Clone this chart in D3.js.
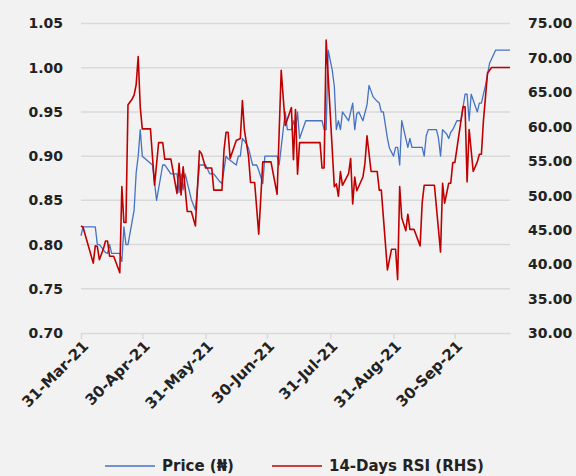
<!DOCTYPE html>
<html>
<head>
<meta charset="utf-8">
<script src="https://cdn.jsdelivr.net/npm/d3@7"></script>
<style>
html,body{margin:0;padding:0;background:#f2f2f2;}
svg{display:block;}
text{font-family:"DejaVu Sans",sans-serif;font-weight:bold;fill:#222;}
</style>
</head>
<body>
<svg id="chart" width="576" height="476"></svg>
<script>
const priceDates = ["2021-03-31","2021-04-01","2021-04-07","2021-04-08","2021-04-09","2021-04-12","2021-04-13","2021-04-14","2021-04-15","2021-04-19","2021-04-20","2021-04-21","2021-04-22","2021-04-23","2021-04-26","2021-04-27","2021-04-28","2021-04-29","2021-04-30",
"2021-05-03","2021-05-05","2021-05-07","2021-05-10","2021-05-11","2021-05-14","2021-05-17","2021-05-18","2021-05-19","2021-05-20","2021-05-21","2021-05-24","2021-05-26","2021-05-28","2021-05-31",
"2021-06-02","2021-06-04","2021-06-07","2021-06-08","2021-06-10","2021-06-11","2021-06-15","2021-06-16","2021-06-17","2021-06-18","2021-06-20","2021-06-21","2021-06-23","2021-06-25","2021-06-26","2021-06-28","2021-06-29",
"2021-07-05","2021-07-06","2021-07-09","2021-07-10","2021-07-12","2021-07-13","2021-07-14","2021-07-15","2021-07-16","2021-07-19","2021-07-27","2021-07-28","2021-07-29","2021-07-30",
"2021-08-01","2021-08-02","2021-08-03","2021-08-04","2021-08-05","2021-08-06","2021-08-09","2021-08-11","2021-08-12","2021-08-13","2021-08-14","2021-08-16","2021-08-18","2021-08-19","2021-08-21","2021-08-23","2021-08-24","2021-08-25","2021-08-26","2021-08-28","2021-08-29","2021-08-31",
"2021-09-01","2021-09-02","2021-09-03","2021-09-04","2021-09-06","2021-09-07","2021-09-08","2021-09-09","2021-09-14","2021-09-15","2021-09-16","2021-09-17","2021-09-21","2021-09-22","2021-09-23","2021-09-24","2021-09-26","2021-09-27","2021-09-28","2021-09-29",
"2021-10-01","2021-10-03","2021-10-05","2021-10-06","2021-10-07","2021-10-08","2021-10-11","2021-10-12","2021-10-13","2021-10-15","2021-10-17","2021-10-20","2021-10-27"];
const priceValues = [0.81,0.82,0.82,0.80,0.80,0.791,0.79,0.80,0.79,0.79,0.781,0.82,0.80,0.80,0.839,0.881,0.90,0.93,0.90,
0.894,0.89,0.85,0.89,0.89,0.88,0.88,0.859,0.88,0.862,0.88,0.851,0.839,0.89,0.89,
0.88,0.88,0.871,0.869,0.90,0.897,0.89,0.90,0.90,0.92,0.914,0.909,0.89,0.89,0.884,0.869,0.90,
0.90,0.89,0.95,0.93,0.93,0.94,0.93,0.95,0.92,0.94,0.94,0.93,0.93,1.02,
0.997,0.979,0.93,0.94,0.93,0.95,0.94,0.96,0.93,0.948,0.95,0.94,0.958,0.98,0.967,0.962,0.96,0.95,0.95,0.92,0.909,0.90,
0.91,0.91,0.89,0.94,0.92,0.91,0.92,0.91,0.91,0.90,0.923,0.93,0.93,0.92,0.90,0.93,0.925,0.92,0.927,0.93,
0.94,0.94,0.97,0.97,0.94,0.97,0.95,0.96,0.96,0.98,1.005,1.02,1.02];

const rsiDates = ["2021-03-31","2021-04-01","2021-04-06","2021-04-07","2021-04-08","2021-04-09","2021-04-11","2021-04-12","2021-04-13","2021-04-14","2021-04-16","2021-04-19","2021-04-20","2021-04-21","2021-04-22","2021-04-23","2021-04-25","2021-04-26","2021-04-27","2021-04-28","2021-04-29","2021-04-30",
"2021-05-04","2021-05-06","2021-05-08","2021-05-10","2021-05-11","2021-05-14","2021-05-17","2021-05-18","2021-05-19","2021-05-20","2021-05-22","2021-05-24","2021-05-26","2021-05-28","2021-05-29","2021-05-31",
"2021-06-03","2021-06-04","2021-06-08","2021-06-09","2021-06-10","2021-06-11","2021-06-12","2021-06-15","2021-06-17","2021-06-18","2021-06-19","2021-06-21","2021-06-22","2021-06-24","2021-06-26","2021-06-28",
"2021-07-02","2021-07-05","2021-07-07","2021-07-09","2021-07-12","2021-07-13","2021-07-14","2021-07-15","2021-07-16","2021-07-26","2021-07-27","2021-07-28","2021-07-29",
"2021-08-02","2021-08-03","2021-08-04","2021-08-05","2021-08-06","2021-08-09","2021-08-10","2021-08-11","2021-08-12","2021-08-13","2021-08-16","2021-08-17","2021-08-18","2021-08-20","2021-08-23","2021-08-24","2021-08-25","2021-08-28","2021-08-30",
"2021-09-01","2021-09-02","2021-09-03","2021-09-04","2021-09-06","2021-09-07","2021-09-08","2021-09-10","2021-09-13","2021-09-14","2021-09-15","2021-09-20","2021-09-23","2021-09-24","2021-09-25","2021-09-27","2021-09-28","2021-09-29","2021-09-30",
"2021-10-04","2021-10-05","2021-10-06","2021-10-07","2021-10-09","2021-10-11","2021-10-12","2021-10-13","2021-10-14","2021-10-16","2021-10-18","2021-10-27"];
const rsiValues = [45.6,45.4,40.2,42.7,42.6,40.7,42.3,43.4,43.4,41.2,41.2,38.8,51.3,46.1,46.1,63.2,64.0,64.6,66.1,70.2,62.9,59.7,
59.7,51.5,57.7,57.7,55.3,55.3,50.3,54.7,50.1,54.2,47.7,47.7,45.6,56.5,56.1,54.0,
54.0,50.8,50.8,56.6,59.2,59.2,55.4,58.0,58.3,63.8,59.5,55.7,51.9,51.9,44.4,54.9,
54.9,50.2,68.2,60.2,62.8,55.2,62.5,53.1,57.7,57.7,54.0,54.0,72.6,
51.3,51.7,49.9,53.5,51.5,53.2,55.4,48.8,52.7,50.7,52.7,54.7,58.7,53.5,53.5,50.8,50.8,39.2,42.2,
42.2,37.8,51.3,46.8,44.9,47.3,45.1,45.1,42.7,48.9,51.5,51.5,41.8,51.8,48.9,51.8,51.8,54.8,54.8,
62.9,62.9,52.0,59.6,53.5,54.9,56.0,56.0,60.9,67.8,68.6,68.6];

const xTickDates = ["2021-03-31","2021-04-30","2021-05-31","2021-06-30","2021-07-31","2021-08-31","2021-09-30"];
const priceTicks = [0.70,0.75,0.80,0.85,0.90,0.95,1.00,1.05];
const rsiTicks = [30,35,40,45,50,55,60,65,70,75];
const seriesNames = ["Price (\u20a6)","14-Days RSI (RHS)"];
const seriesColors = ["#4472C4","#C00000"];

const parse = d3.utcParse("%Y-%m-%d");
const svg = d3.select("#chart");

const x = d3.scaleUtc().domain([parse("2021-03-31"), parse("2021-10-27")]).range([81, 510]);
const yL = d3.scaleLinear().domain([0.70, 1.05]).range([333, 23.5]);
const yR = d3.scaleLinear().domain([30, 75]).range([333.3, 23.5]);

// gridlines
svg.append("g").selectAll("line").data(priceTicks.slice(1)).join("line")
  .attr("x1", 81).attr("x2", 510)
  .attr("y1", d => yL(d)).attr("y2", d => yL(d))
  .attr("stroke", "#d9d9d9").attr("stroke-width", 1.5);

// x axis
const xAxis = svg.append("g").attr("transform", "translate(0,333)")
  .call(d3.axisBottom(x).tickValues(xTickDates.map(parse)).tickSize(6).tickSizeOuter(0).tickFormat(d3.utcFormat("%d-%b-%y")));
xAxis.select(".domain").attr("stroke", "#d9d9d9").attr("stroke-width", 1.5);
xAxis.selectAll(".tick line").attr("stroke", "#d9d9d9").attr("stroke-width", 1.5);
xAxis.selectAll(".tick text")
  .attr("font-size", 15).attr("font-family", "DejaVu Sans").attr("font-weight", "bold").attr("fill", "#222")
  .attr("text-anchor", "end")
  .attr("x", 0).attr("y", 0).attr("dy", "0")
  .attr("transform", "translate(8,14) rotate(-45)");

// left axis
const lAxis = svg.append("g").attr("transform", "translate(81,0)")
  .call(d3.axisLeft(yL).tickValues(priceTicks).tickSize(0).tickPadding(18).tickFormat(d3.format(".2f")));
lAxis.select(".domain").remove();
lAxis.selectAll("text").attr("font-size", 14).attr("font-family", "DejaVu Sans").attr("font-weight", "bold").attr("fill", "#222");

// right axis
const rAxis = svg.append("g").attr("transform", "translate(510,0)")
  .call(d3.axisRight(yR).tickValues(rsiTicks).tickSize(0).tickPadding(18).tickFormat(d3.format(".2f")));
rAxis.select(".domain").remove();
rAxis.selectAll("text").attr("font-size", 14).attr("font-family", "DejaVu Sans").attr("font-weight", "bold").attr("fill", "#222");

// lines
const priceData = priceDates.map((d, i) => ({date: parse(d), v: priceValues[i]}));
const rsiData = rsiDates.map((d, i) => ({date: parse(d), v: rsiValues[i]}));

svg.append("path").datum(priceData)
  .attr("fill", "none").attr("stroke", seriesColors[0]).attr("stroke-width", 1.3).attr("stroke-linejoin", "round")
  .attr("d", d3.line().x(d => x(d.date)).y(d => yL(d.v)));
svg.append("path").datum(rsiData)
  .attr("fill", "none").attr("stroke", seriesColors[1]).attr("stroke-width", 1.6).attr("stroke-linejoin", "round")
  .attr("d", d3.line().x(d => x(d.date)).y(d => yR(d.v)));

// legend
const legendX = [105, 272];
const lg = svg.append("g");
seriesNames.forEach((name, i) => {
  lg.append("line").attr("x1", legendX[i]).attr("x2", legendX[i] + 50)
    .attr("y1", 466).attr("y2", 466).attr("stroke", seriesColors[i]).attr("stroke-width", i ? 1.6 : 1.3);
  lg.append("text").attr("x", legendX[i] + 57).attr("y", 471)
    .attr("font-size", 15).text(name);
});
</script>
</body>
</html>
